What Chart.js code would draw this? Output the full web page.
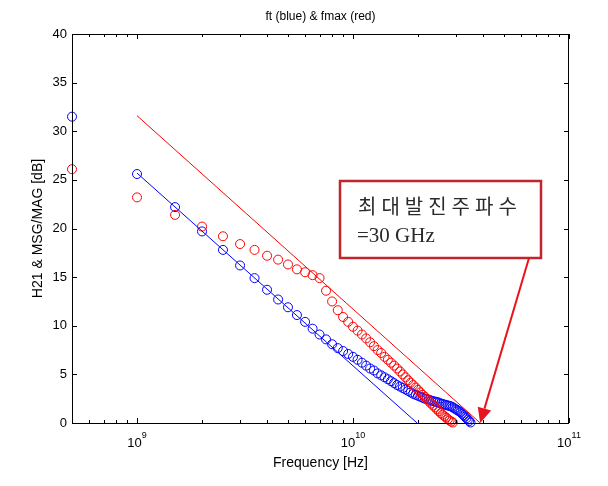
<!DOCTYPE html>
<html>
<head>
<meta charset="utf-8">
<script src="https://cdn.jsdelivr.net/npm/chart.js@4.4.0/dist/chart.umd.min.js"></script>
<style>
  html, body { margin: 0; padding: 0; background: #fff; }
  canvas { display: block; }
</style>
</head>
<body>
<canvas id="chart" width="608" height="486"></canvas>
<script>
// frequency sweep in GHz (0.5 GHz steps)
const freqGHz = [
  0.5, 1, 1.5, 2, 2.5, 3, 3.5, 4, 4.5, 5, 5.5, 6, 6.5, 7, 7.5, 8, 8.5, 9, 9.5, 10,
  10.5, 11, 11.5, 12, 12.5, 13, 13.5, 14, 14.5, 15, 15.5, 16, 16.5, 17, 17.5, 18, 18.5, 19, 19.5, 20,
  20.5, 21, 21.5, 22, 22.5, 23, 23.5, 24, 24.5, 25, 25.5, 26, 26.5, 27, 27.5, 28, 28.5, 29, 29.5, 30,
  30.5, 31, 31.5, 32, 32.5, 33, 33.5, 34, 34.5, 35
];

// |H21| in dB (blue circles)
const h21Db = [
  31.5, 25.6, 22.2, 19.7, 17.8, 16.2, 14.9, 13.7, 12.7, 11.9, 11.1, 10.4, 9.7, 9.1, 8.6, 8.1, 7.7, 7.4, 7.1, 6.8,
  6.5, 6.2, 5.9, 5.6, 5.4, 5.1, 4.9, 4.7, 4.5, 4.3, 4.1, 3.9, 3.75, 3.6, 3.45, 3.3, 3.15, 3.0, 2.9, 2.8,
  2.7, 2.6, 2.5, 2.45, 2.4, 2.3, 2.25, 2.2, 2.15, 2.1, 2.0, 1.95, 1.9, 1.85, 1.8, 1.75, 1.7, 1.6, 1.5, 1.4,
  1.3, 1.2, 1.1, 0.95, 0.8, 0.65, 0.5, 0.35, 0.2, 0.05
];

// MSG/MAG in dB (red circles), same sweep up to 29 GHz
const msgDb = [
  26.1, 23.2, 21.4, 20.2, 19.2, 18.4, 17.8, 17.2, 16.8, 16.3, 15.8, 15.5, 15.2, 14.9, 13.6, 12.5, 11.6, 10.9, 10.4, 9.9,
  9.5, 9.1, 8.7, 8.3, 7.9, 7.5, 7.2, 6.8, 6.5, 6.2, 5.9, 5.6, 5.3, 5.0, 4.7, 4.4, 4.15, 3.9, 3.65, 3.4,
  3.15, 2.9, 2.7, 2.45, 2.2, 2.0, 1.8, 1.6, 1.4, 1.2, 1.0, 0.85, 0.7, 0.55, 0.4, 0.25, 0.15, 0.05
];

// -20 dB/dec fit lines
const h21FitGHz = [1, 19.8];
const h21FitDb = [25.7, 0];
const msgFitGHz = [1, 38.8];
const msgFitDb = [31.6, 0];

const xDecades = [1e9, 1e10, 1e11];
const xExponents = ['9', '10', '11'];

const FONT = "'Liberation Sans', Arial, sans-serif";
const toPts = (xs, ys) => ys.map((y, i) => ({ x: xs[i] * 1e9, y: y }));

const matlabAxes = {
  id: 'matlabAxes',
  afterDraw(chart) {
    const { ctx, chartArea: a, scales: { x, y } } = chart;
    ctx.save();

    // title centred over the axes
    ctx.fillStyle = '#000';
    ctx.font = '12px ' + FONT;
    ctx.textAlign = 'center';
    ctx.textBaseline = 'middle';
    ctx.fillText('ft (blue) & fmax (red)', (a.left + a.right) / 2, 17);

    ctx.strokeStyle = '#000';
    ctx.lineWidth = 1;
    ctx.strokeRect(a.left + 0.5, a.top + 0.5, a.right - a.left - 1, a.bottom - a.top);

    // log ticks, inward on bottom and top
    ctx.beginPath();
    for (let e = 8; e <= 10; e++) {
      for (let m = 1; m <= 10; m++) {
        const v = m * Math.pow(10, e);
        if (v <= 5e8 || v > 1e11) continue;
        const px = Math.round(x.getPixelForValue(v)) + 0.5;
        const len = (m === 1 || m === 10) ? 5 : 3;
        ctx.moveTo(px, a.bottom); ctx.lineTo(px, a.bottom - len);
        ctx.moveTo(px, a.top); ctx.lineTo(px, a.top + len);
      }
    }
    // y ticks, inward on left and right
    for (let v = 0; v <= 40; v += 5) {
      const py = Math.round(y.getPixelForValue(v)) + 0.5;
      ctx.moveTo(a.left, py); ctx.lineTo(a.left + 5, py);
      ctx.moveTo(a.right, py); ctx.lineTo(a.right - 5, py);
    }
    ctx.stroke();

    // 10^n labels
    ctx.textBaseline = 'alphabetic';
    ctx.textAlign = 'left';
    xDecades.forEach((v, i) => {
      const px = x.getPixelForValue(v);
      ctx.font = '13px ' + FONT;
      const w1 = ctx.measureText('10').width;
      ctx.font = '9px ' + FONT;
      const w2 = ctx.measureText(xExponents[i]).width;
      const start = px - (w1 + w2) / 2;
      ctx.font = '13px ' + FONT;
      ctx.fillText('10', start, a.bottom + 24);
      ctx.font = '9px ' + FONT;
      ctx.fillText(xExponents[i], start + w1, a.bottom + 15);
    });

    // annotation box + arrow
    const bx = 340, by = 181, bw = 201, bh = 77;
    ctx.fillStyle = '#fff';
    ctx.fillRect(bx, by, bw, bh);
    ctx.strokeStyle = '#c4242b';
    ctx.lineWidth = 2.5;
    ctx.strokeRect(bx, by, bw, bh);
    ctx.fillStyle = '#2a2a2a';
    ctx.font = "20px 'Noto Sans CJK KR', 'Liberation Serif', serif";
    ctx.letterSpacing = '5px';
    ctx.fillText('최대발진주파수', 358, 214);
    ctx.letterSpacing = '0px';
    ctx.font = "21px 'Liberation Serif', serif";
    ctx.fillText('=30 GHz', 357, 242);

    const tx = x.getPixelForValue(msgFitGHz[1] * 1e9), ty = y.getPixelForValue(0);
    const sx = 529, sy = by + bh;
    const ang = Math.atan2(ty - sy, tx - sx);
    const hl = 15, hw = 7;
    const bxp = tx - hl * Math.cos(ang), byp = ty - hl * Math.sin(ang);
    ctx.strokeStyle = '#e8141c';
    ctx.fillStyle = '#e8141c';
    ctx.lineWidth = 2;
    ctx.beginPath();
    ctx.moveTo(sx, sy); ctx.lineTo(bxp, byp);
    ctx.stroke();
    ctx.beginPath();
    ctx.moveTo(tx, ty);
    ctx.lineTo(bxp + hw * Math.sin(ang), byp - hw * Math.cos(ang));
    ctx.lineTo(bxp - hw * Math.sin(ang), byp + hw * Math.cos(ang));
    ctx.closePath();
    ctx.fill();
    ctx.restore();
  }
};

new Chart(document.getElementById('chart'), {
  type: 'scatter',
  data: {
    datasets: [
      {
        label: 'MSG/MAG',
        data: toPts(freqGHz, msgDb),
        borderColor: '#ff0000',
        backgroundColor: 'rgba(0,0,0,0)',
        pointRadius: 4.5,
        borderWidth: 1,
        clip: false,
        order: 1
      },
      {
        label: 'H21',
        data: toPts(freqGHz, h21Db),
        borderColor: '#0000ff',
        backgroundColor: 'rgba(0,0,0,0)',
        pointRadius: 4.5,
        borderWidth: 1,
        clip: false,
        order: 2
      },
      {
        label: 'H21 fit',
        data: toPts(h21FitGHz, h21FitDb),
        showLine: true,
        borderColor: '#0000ff',
        borderWidth: 1,
        pointRadius: 0,
        order: 0
      },
      {
        label: 'MSG fit',
        data: toPts(msgFitGHz, msgFitDb),
        showLine: true,
        borderColor: '#ff0000',
        borderWidth: 1,
        pointRadius: 0,
        order: 0
      }
    ]
  },
  options: {
    responsive: false,
    animation: false,
    layout: { padding: { left: 0, right: 39, top: 34, bottom: 0 } },
    plugins: {
      legend: { display: false },
      tooltip: { enabled: false },
      title: { display: false }
    },
    scales: {
      x: {
        type: 'logarithmic',
        min: 5e8,
        max: 1e11,
        grid: { display: false, drawTicks: false },
        border: { display: false },
        ticks: { display: false },
        afterBuildTicks: s => { s.ticks = xDecades.map(v => ({ value: v })); },
        afterFit: s => { s.height = 63; },
        title: {
          display: true,
          text: 'Frequency [Hz]',
          color: '#000',
          font: { family: FONT, size: 14 },
          padding: { top: 0, bottom: 14.6 }
        }
      },
      y: {
        min: 0,
        max: 40,
        grid: { display: false, drawTicks: false },
        border: { display: false },
        ticks: { stepSize: 5, padding: 5, color: '#000', font: { family: FONT, size: 13 } },
        afterFit: s => { s.width = 72; },
        title: {
          display: true,
          text: 'H21 & MSG/MAG [dB]',
          color: '#000',
          font: { family: FONT, size: 14 },
          padding: { top: 29.6, bottom: 0 }
        }
      }
    }
  },
  plugins: [matlabAxes]
});
</script>
</body>
</html>
